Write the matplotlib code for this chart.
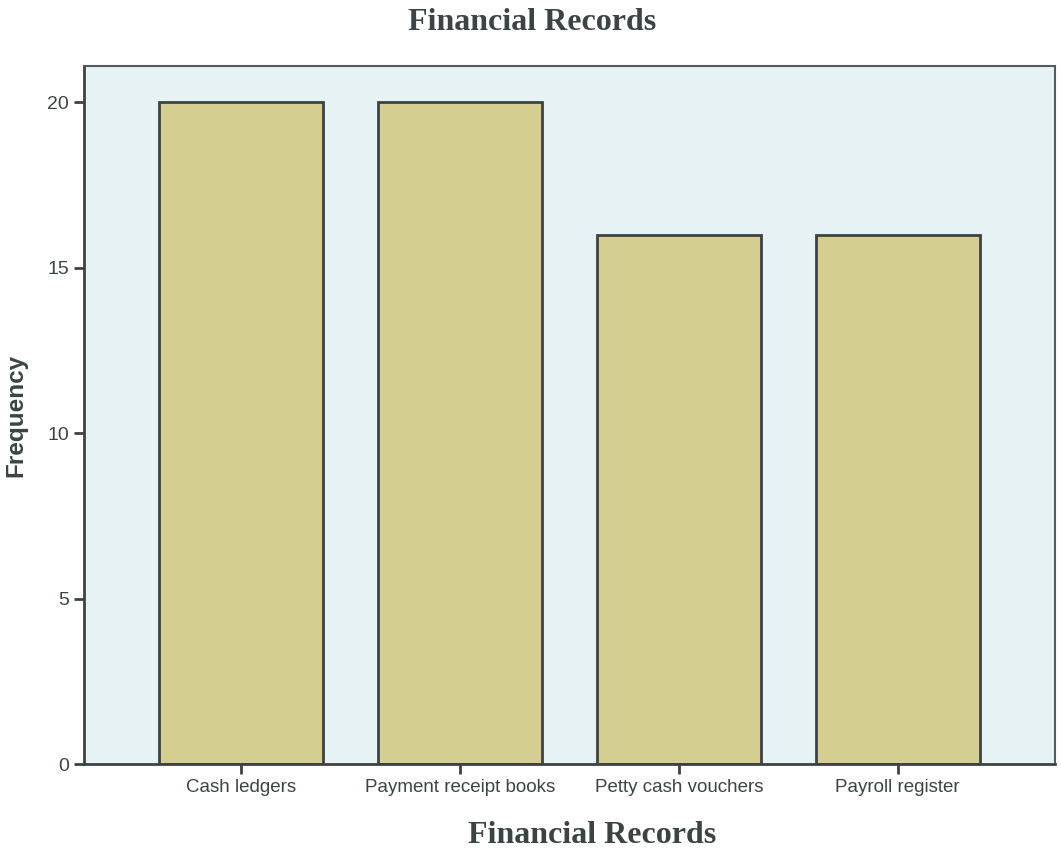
import matplotlib.pyplot as plt

# data
categories = ['Cash ledgers', 'Payment receipt books', 'Petty cash vouchers', 'Payroll register']
frequency = [20, 20, 16, 16]
y_ticks = [0, 5, 10, 15, 20]

text_col = '#3b4444'
edge_col = '#3d4242'

fig = plt.figure(figsize=(10.61, 8.51), dpi=100)
ax = fig.add_axes([0.0792, 0.1022, 0.9151, 0.8202])
ax.set_facecolor('#e7f2f4')

x = range(len(categories))
ax.bar(x, frequency, width=0.75, color='#d4ce91', edgecolor=edge_col, linewidth=2)

ax.set_xlim(-0.72, 3.72)
ax.set_ylim(0, 21.1)
ax.set_xticks(list(x))
ax.set_xticklabels(categories, fontsize=13.5, color=text_col, family='Liberation Sans')
ax.set_yticks(y_ticks)
ax.set_yticklabels([str(v) for v in y_ticks], fontsize=14, color=text_col, family='Liberation Sans')
ax.tick_params(direction='out', length=7, width=2, color=edge_col, pad=4)

for side in ['left', 'bottom']:
    ax.spines[side].set_color(edge_col)
    ax.spines[side].set_linewidth(2)
for side in ['top', 'right']:
    ax.spines[side].set_color('#555a5a')
    ax.spines[side].set_linewidth(1.5)

ax.set_ylabel('Frequency', fontsize=17.5, fontweight='bold', color=text_col,
              family='Liberation Sans', labelpad=14)

# title and axis label sit off-centre in the original
fig.text(0.5014, 0.974, 'Financial Records', ha='center', va='center', fontsize=23,
         fontweight='bold', color=text_col, family='Liberation Serif')
fig.text(0.558, 0.0188, 'Financial Records', ha='center', va='center', fontsize=23,
         fontweight='bold', color=text_col, family='Liberation Serif')

fig.savefig('out.png', dpi=100)
